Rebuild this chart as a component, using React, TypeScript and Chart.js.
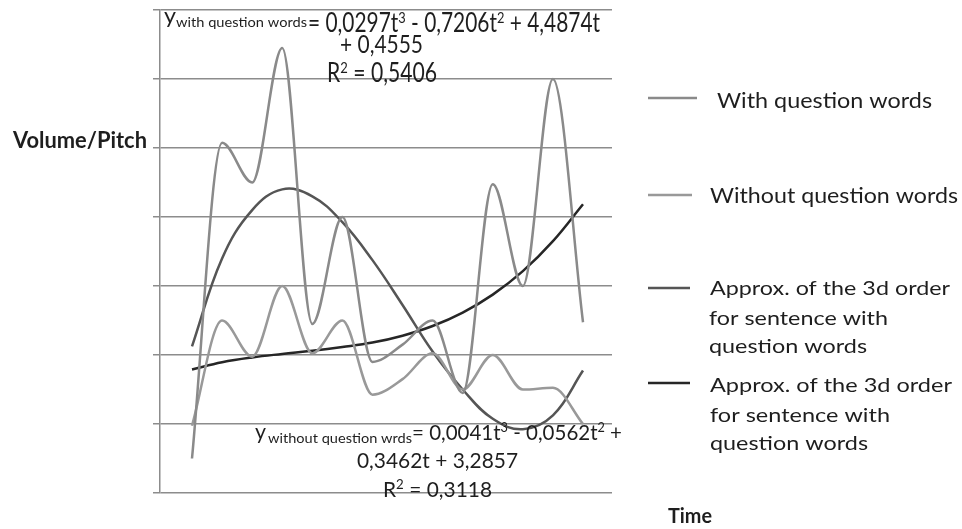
import React, { useEffect, useRef } from "react";
import { Chart, registerables } from "chart.js";

Chart.register(...registerables);

// ---- data ----
const timeSteps = [1, 2, 3, 4, 5, 6, 7, 8, 9, 10, 11, 12, 13, 14];
const withQuestionWords = [1.0, 10.15, 9.0, 12.9, 4.9, 8.0, 3.8, 4.3, 5.0, 2.9, 8.95, 6.0, 12.0, 4.95];
const withoutQuestionWords = [1.95, 5.0, 3.95, 6.0, 4.05, 5.0, 2.85, 3.3, 4.05, 3.0, 4.0, 3.0, 3.05, 2.0];
const approxWith = [4.25, 6.8, 8.2, 8.8, 8.6, 7.85, 6.75, 5.45, 4.1, 3.0, 2.15, 1.85, 2.25, 3.55];
const approxWithout = [3.58, 3.79, 3.93, 4.03, 4.12, 4.23, 4.36, 4.56, 4.84, 5.23, 5.75, 6.43, 7.3, 8.37];
const yTicks = [0, 2, 4, 6, 8, 10, 12, 14];

const seriesNames = [
  "With question words",
  "Without question words",
  "Approx. of the 3d order for sentence with question words",
  "Approx. of the 3d order for sentence with question words",
];
const legendLines = [
  ["With question words"],
  ["Without question words"],
  ["Approx. of the 3d order", "for sentence with", "question words"],
  ["Approx. of the 3d order", "for sentence with", "question words"],
];
// "^" marks the next character as a superscript
const eqWith = ["y", "with question words", "= 0,0297t^3 - 0,7206t^2 + 4,4874t", "+ 0,4555", "R^2 = 0,5406"];
const eqWithout = ["y", "without question wrds", "= 0,0041t^3 - 0,0562t^2 +", "0,3462t + 3,2857", "R^2 = 0,3118"];
const axisTitles = ["Volume/Pitch", "Time"];

// ---- styles / layout ----
const colors = ["#8a8a8a", "#999999", "#555555", "#262626"];
const FONT = "Lato, 'Open Sans', sans-serif";
const TEXT_COLOR = "#1e1e1e";

type Note = { text: string; left: number; right: number; base: number; size: number; bold?: boolean };

const notes: Note[] = [
  { text: eqWith[0], left: 164, right: 176, base: 23, size: 22 },
  { text: eqWith[1], left: 176, right: 307, base: 27, size: 14 },
  { text: eqWith[2], left: 308, right: 600, base: 32, size: 26 },
  { text: eqWith[3], left: 340, right: 423, base: 53, size: 25 },
  { text: eqWith[4], left: 327, right: 437, base: 82, size: 26 },
  { text: eqWithout[0], left: 255, right: 266, base: 439, size: 21 },
  { text: eqWithout[1], left: 268, right: 412, base: 443, size: 14 },
  { text: eqWithout[2], left: 412, right: 622, base: 440, size: 21 },
  { text: eqWithout[3], left: 357, right: 518, base: 468, size: 21 },
  { text: eqWithout[4], left: 383, right: 492, base: 497, size: 22 },
  { text: axisTitles[0], left: 13, right: 147, base: 148, size: 22, bold: true },
  { text: axisTitles[1], left: 668, right: 712, base: 523, size: 21, bold: true },
  { text: legendLines[0][0], left: 717, right: 932, base: 108, size: 21 },
  { text: legendLines[1][0], left: 710, right: 958, base: 203, size: 21 },
  { text: legendLines[2][0], left: 710, right: 950, base: 295, size: 19 },
  { text: legendLines[2][1], left: 709, right: 888, base: 325, size: 19 },
  { text: legendLines[2][2], left: 709, right: 867, base: 353, size: 19 },
  { text: legendLines[3][0], left: 710, right: 952, base: 392, size: 19 },
  { text: legendLines[3][1], left: 710, right: 890, base: 422, size: 19 },
  { text: legendLines[3][2], left: 710, right: 868, base: 450, size: 19 },
];

const swatches = [
  { x1: 648, x2: 697, y: 98 },
  { x1: 648, x2: 692, y: 195 },
  { x1: 648, x2: 690, y: 288 },
  { x1: 648, x2: 690, y: 383 },
];

type Seg = { s: string; sup: boolean };
const parseSegs = (t: string): Seg[] => {
  const out: Seg[] = [];
  let buf = "";
  for (let i = 0; i < t.length; i++) {
    if (t[i] === "^" && i + 1 < t.length) {
      if (buf) out.push({ s: buf, sup: false });
      buf = "";
      out.push({ s: t[i + 1], sup: true });
      i++;
    } else buf += t[i];
  }
  if (buf) out.push({ s: buf, sup: false });
  return out;
};

const overlayPlugin = {
  id: "overlay",
  afterDraw(chart: any) {
    const ctx: CanvasRenderingContext2D = chart.ctx;
    ctx.save();
    swatches.forEach((s, i) => {
      ctx.beginPath();
      ctx.strokeStyle = colors[i];
      ctx.lineWidth = 2.5;
      ctx.moveTo(s.x1, s.y);
      ctx.lineTo(s.x2, s.y);
      ctx.stroke();
    });
    ctx.fillStyle = TEXT_COLOR;
    ctx.textAlign = "left";
    ctx.textBaseline = "alphabetic";
    notes.forEach((n) => {
      const segs = parseSegs(n.text);
      const weight = n.bold ? "bold " : "";
      const fontFor = (sup: boolean) => `${weight}${sup ? Math.round(n.size * 0.62) : n.size}px ${FONT}`;
      let total = 0;
      const widths = segs.map((g) => {
        ctx.font = fontFor(g.sup);
        const w = ctx.measureText(g.s).width;
        total += w;
        return w;
      });
      const sx = (n.right - n.left) / (total || 1);
      ctx.save();
      ctx.translate(n.left, n.base);
      ctx.scale(sx, 1);
      let x = 0;
      segs.forEach((g, i) => {
        ctx.font = fontFor(g.sup);
        ctx.fillText(g.s, x, g.sup ? -n.size * 0.36 : 0);
        x += widths[i];
      });
      ctx.restore();
    });
    ctx.restore();
  },
};

const toPoints = (arr: number[]) => timeSteps.map((t, i) => ({ x: t, y: arr[i] }));

export default function App() {
  const ref = useRef<HTMLCanvasElement | null>(null);
  useEffect(() => {
    if (!ref.current) return;
    const chart = new Chart(ref.current, {
      type: "line",
      data: {
        datasets: [
          { label: seriesNames[0], data: toPoints(withQuestionWords), borderColor: colors[0], borderWidth: 2.5, cubicInterpolationMode: "monotone" },
          { label: seriesNames[1], data: toPoints(withoutQuestionWords), borderColor: colors[1], borderWidth: 2.5, cubicInterpolationMode: "monotone" },
          { label: seriesNames[2], data: toPoints(approxWith), borderColor: colors[2], borderWidth: 2.5, tension: 0.4 },
          { label: seriesNames[3], data: toPoints(approxWithout), borderColor: colors[3], borderWidth: 2.5, tension: 0.4 },
        ] as any,
      },
      options: {
        animation: false,
        responsive: false,
        events: [],
        layout: { padding: { left: 153, top: 10, right: 350, bottom: 36 } },
        elements: { point: { radius: 0 }, line: { fill: false, capBezierPoints: false } },
        plugins: { legend: { display: false }, tooltip: { enabled: false }, title: { display: false } },
        scales: {
          x: { type: "linear", min: -0.064, max: 14.964, display: false },
          y: {
            min: 0,
            max: 14,
            afterBuildTicks: (s: any) => {
              s.ticks = yTicks.map((v) => ({ value: v }));
            },
            ticks: { display: false },
            grid: { color: "#8c8c8c", lineWidth: 1.5, tickLength: 7, drawTicks: true },
            border: { display: true, color: "#8c8c8c", width: 1.5 },
          },
        },
      } as any,
      plugins: [overlayPlugin],
    });
    return () => chart.destroy();
  }, []);
  return (
    <div style={{ position: "fixed", left: 0, top: 0, width: 962, height: 529, background: "#fff" }}>
      <canvas ref={ref} width={962} height={529} />
    </div>
  );
}
